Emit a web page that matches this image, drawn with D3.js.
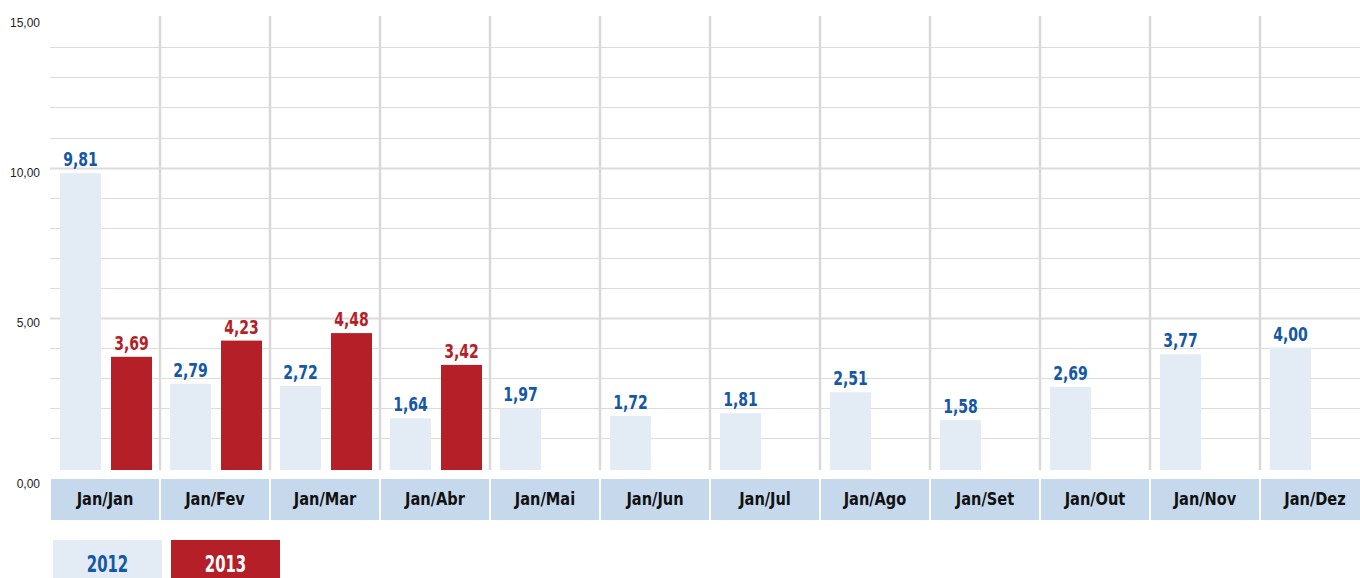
<!DOCTYPE html>
<html>
<head>
<meta charset="utf-8">
<script src="https://cdn.jsdelivr.net/npm/d3@7"></script>
<style>
  body { margin: 0; background: #fff; }
  svg text { font-family: "DejaVu Sans Condensed", "Liberation Sans Narrow", "Roboto", sans-serif; }
  svg text.axis { font-family: "Liberation Sans", Arial, sans-serif; }
</style>
</head>
<body>
<svg width="1360" height="578"></svg>
<script>
const months = ["Jan/Jan", "Jan/Fev", "Jan/Mar", "Jan/Abr", "Jan/Mai", "Jan/Jun", "Jan/Jul", "Jan/Ago", "Jan/Set", "Jan/Out", "Jan/Nov", "Jan/Dez"]
const series = ["2012", "2013"]
const values2012 = [9.81, 2.79, 2.72, 1.64, 1.97, 1.72, 1.81, 2.51, 1.58, 2.69, 3.77, 4.00]
const values2013 = [3.69, 4.23, 4.48, 3.42, null, null, null, null, null, null, null, null]
const yTicks = [0, 5, 10, 15]

const barColor = {"2012": "#e3ecf5", "2013": "#b51f27"}
const labelColor = {"2012": "#1558a6", "2013": "#b51f27"}

const svg = d3.select("svg")
const fmt = v => d3.format(".2f")(v).replace(".", ",")

// squeeze text horizontally to look like a condensed face
function narrow(sel, k) {
  sel.each(function() {
    const w = this.getComputedTextLength()
    d3.select(this).attr("textLength", w * k).attr("lengthAdjust", "spacingAndGlyphs")
  })
}

const plotLeft = 50, plotRight = 1370
const x = d3.scaleBand().domain(months).range([plotLeft, plotRight])
const x1 = d3.scaleBand().domain(series).range([10, 102]).paddingInner(10 / 51)
const y = d3.scaleLinear().domain([0, 15]).range([467.5, 17.5])

// horizontal grid, every unit; thicker at multiples of 5
const grid = svg.append("g")
grid.selectAll("line.h")
  .data(d3.range(1, 15))
  .enter().append("line")
  .attr("x1", plotLeft).attr("x2", plotRight)
  .attr("y1", d => Math.round(y(d)) + 0.5)
  .attr("y2", d => Math.round(y(d)) + 0.5)
  .attr("stroke", "#dcdcdc")
  .attr("stroke-width", d => d % 5 == 0 ? 2 : 1)

// vertical separators
grid.selectAll("line.v")
  .data(months.slice(1))
  .enter().append("line")
  .attr("x1", d => x(d)).attr("x2", d => x(d))
  .attr("y1", 16).attr("y2", 470)
  .attr("stroke", "#d9d9d9")
  .attr("stroke-width", 2.5)

// y axis labels
svg.append("g").selectAll("text")
  .data(yTicks)
  .enter().append("text")
  .attr("class", "axis")
  .attr("x", 40)
  .attr("y", d => d == 0 ? 488 : y(d) + 9)
  .attr("text-anchor", "end")
  .attr("font-size", "12px")
  .attr("fill", "#222")
  .text(d => fmt(d))

// bars
const rows = []
for (let i = 0; i < months.length; i++) {
  rows.push({m: months[i], s: "2012", v: values2012[i]})
  if (values2013[i] != null) rows.push({m: months[i], s: "2013", v: values2013[i]})
}

const bars = svg.append("g")
bars.selectAll("rect")
  .data(rows)
  .enter().append("rect")
  .attr("x", d => x(d.m) + x1(d.s))
  .attr("y", d => y(d.v))
  .attr("width", x1.bandwidth())
  .attr("height", d => y(0) + 2.5 - y(d.v))
  .attr("fill", d => barColor[d.s])

bars.selectAll("text")
  .data(rows)
  .enter().append("text")
  .attr("x", d => x(d.m) + x1(d.s) + x1.bandwidth() / 2)
  .attr("y", d => y(d.v) - 7)
  .attr("text-anchor", "middle")
  .attr("font-size", "20px")
  .attr("font-weight", "bold")
  .attr("fill", d => labelColor[d.s])
  .text(d => fmt(d.v))
  .call(narrow, 0.78)

// category band
const band = svg.append("g")
band.selectAll("rect")
  .data(months)
  .enter().append("rect")
  .attr("x", d => x(d) + 1)
  .attr("y", 479)
  .attr("width", x.bandwidth() - 2)
  .attr("height", 41)
  .attr("fill", "#c5d8ec")
band.selectAll("text")
  .data(months)
  .enter().append("text")
  .attr("x", d => x(d) + x.bandwidth() / 2)
  .attr("y", 505)
  .attr("text-anchor", "middle")
  .attr("font-size", "18px")
  .attr("font-weight", "bold")
  .attr("fill", "#111")
  .text(d => d)
  .call(narrow, 0.9)

// legend
const legend = svg.append("g")
const legX = d3.scaleOrdinal().domain(series).range([53, 171])
legend.selectAll("rect")
  .data(series)
  .enter().append("rect")
  .attr("x", d => legX(d))
  .attr("y", 540)
  .attr("width", 109)
  .attr("height", 40)
  .attr("fill", d => barColor[d])
legend.selectAll("text")
  .data(series)
  .enter().append("text")
  .attr("x", d => legX(d) + 54.5)
  .attr("y", 572)
  .attr("text-anchor", "middle")
  .attr("font-size", "23px")
  .attr("font-weight", "bold")
  .attr("fill", d => d == "2012" ? labelColor[d] : "#fff")
  .text(d => d)
  .call(narrow, 0.72)
</script>
</body>
</html>
